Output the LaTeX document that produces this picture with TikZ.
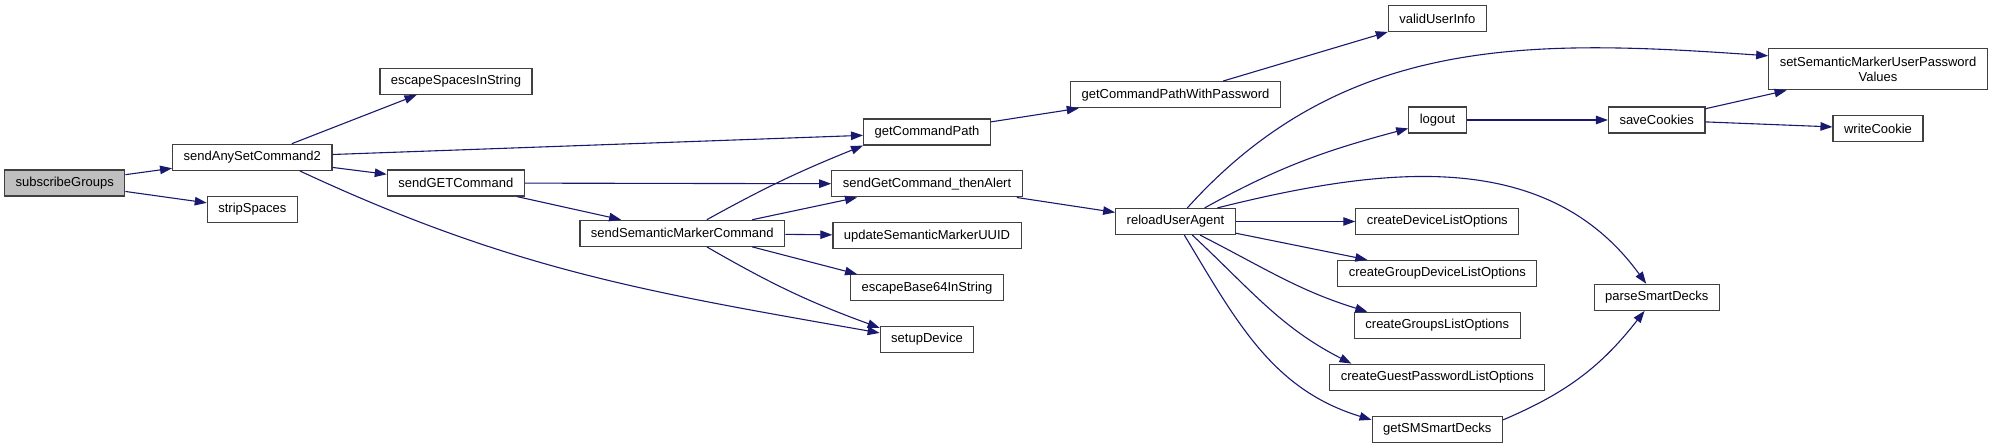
\documentclass[tikz,border=0pt]{standalone}
\usepackage{fontspec}
\setmainfont{Liberation Sans}
\usepackage{tikz}
\usetikzlibrary{arrows.meta, positioning}
\definecolor{edgeblue}{HTML}{191970}
\definecolor{boxline}{HTML}{404040}
\definecolor{rootgrey}{HTML}{BFBFBF}

\begin{document}
\begin{tikzpicture}[
  x=1pt, y=1pt,
  >={Triangle[length=12pt,width=8.5pt]}, node distance=24.7pt,
  box/.style={draw=boxline, line width=1.2pt, fill=white,
              minimum height=26pt, inner xsep=11pt,
              font=\fontsize{13}{15}\selectfont, align=center},
  rootbox/.style={box, fill=rootgrey},
  arr/.style={draw=edgeblue, line width=1.1pt, ->}
]
  \useasboundingbox (0,0) rectangle (1994,-443);

  \node[rootbox] (subscribe) at (64.7,-183) {subscribeGroups};
  \node[box] (sendany) at (252.3,-157.3) {sendAnySetCommand2};
  \node[box, below=of sendany] (strip) {stripSpaces};
  \node[box] (escspaces) at (456,-81.5) {escapeSpacesInString};
  \node[box] (sendget) at (455.8,-183) {sendGETCommand};
  \node[box] (semcmd) at (682.3,-233.3) {sendSemanticMarkerCommand};
  \node[box] (cmdpath) at (927,-132) {getCommandPath};
  \node[box, below=of cmdpath] (thenalert) {sendGetCommand\_thenAlert};
  \node[box, below=of thenalert] (updateuuid) {updateSemanticMarkerUUID};
  \node[box, below=of updateuuid] (escb64) {escapeBase64InString};
  \node[box, below=of escb64] (setup) {setupDevice};
  \node[box] (cmdpathpw) at (1175.5,-94.7) {getCommandPathWithPassword};
  \node[box] (reload) at (1175.5,-221.5) {reloadUserAgent};
  \node[box] (validuser) at (1437.3,-18.7) {validUserInfo};
  \node[box] (logout) at (1437.5,-120) {logout};
  \node[box] (devlist) at (1437.3,-221.5) {createDeviceListOptions};
  \node[box, below=of devlist] (groupdevlist) {createGroupDeviceListOptions};
  \node[box, below=of groupdevlist] (groupslist) {createGroupsListOptions};
  \node[box, below=of groupslist] (guestpw) {createGuestPasswordListOptions};
  \node[box, below=of guestpw] (smdecks) {getSMSmartDecks};
  \node[box] (savecookies) at (1656.7,-120) {saveCookies};
  \node[box] (parsedecks) at (1656.8,-297.3) {parseSmartDecks};
  \node[box, minimum height=41pt] (setpwvalues) at (1878,-69.3)
    {setSemanticMarkerUserPassword\\Values};
  \node[box, below=of setpwvalues] (writecookie) {writeCookie};

  \draw[arr] (subscribe) -- (sendany);
  \draw[arr] (subscribe) -- (strip);
  \draw[arr] (sendany.19) -- (escspaces.199);
  \draw[arr] (sendany.2) -- (cmdpath.183);
  \draw[arr] (sendany) -- (sendget);
  \draw[arr] (sendany.-16) to[out=-25, in=170] (setup.172);
  \draw[arr] (sendget) -- (thenalert);
  \draw[arr] (sendget) -- (semcmd);
  \draw[arr] (semcmd.29) to[out=29, in=202] (cmdpath.192);
  \draw[arr] (semcmd.11) -- (thenalert.191);
  \draw[arr] (semcmd) -- (updateuuid);
  \draw[arr] (semcmd.-11) -- (escb64.169);
  \draw[arr] (semcmd.-29) to[out=-30, in=160] (setup.166);
  \draw[arr] (cmdpath.9) -- (cmdpathpw.188);
  \draw[arr] (cmdpathpw.16) -- (validuser.195);
  \draw[arr] (thenalert) -- (reload);
  \draw[arr] (reload.49) to[out=48, in=176] (setpwvalues.173);
  \draw[arr] (reload.25) to[out=29, in=195] (logout.196);
  \draw[arr] (reload.18) to[out=14, in=126] (parsedecks.128);
  \draw[arr] (reload) -- (devlist);
  \draw[arr] (reload.-11) -- (groupdevlist.169);
  \draw[arr] (reload.-29) to[out=-27, in=163] (groupslist.169);
  \draw[arr] (reload.-39) to[out=-43, in=153] (guestpw.171);
  \draw[arr] (reload.-57) to[out=-59, in=163] (smdecks.172);
  \draw[arr] (logout) -- (savecookies);
  \draw[arr] (savecookies.13) -- (setpwvalues.193);
  \draw[arr] (savecookies) -- (writecookie);
  \draw[arr] (smdecks.8) to[out=23, in=-128] (parsedecks.228);
\end{tikzpicture}
\end{document}
